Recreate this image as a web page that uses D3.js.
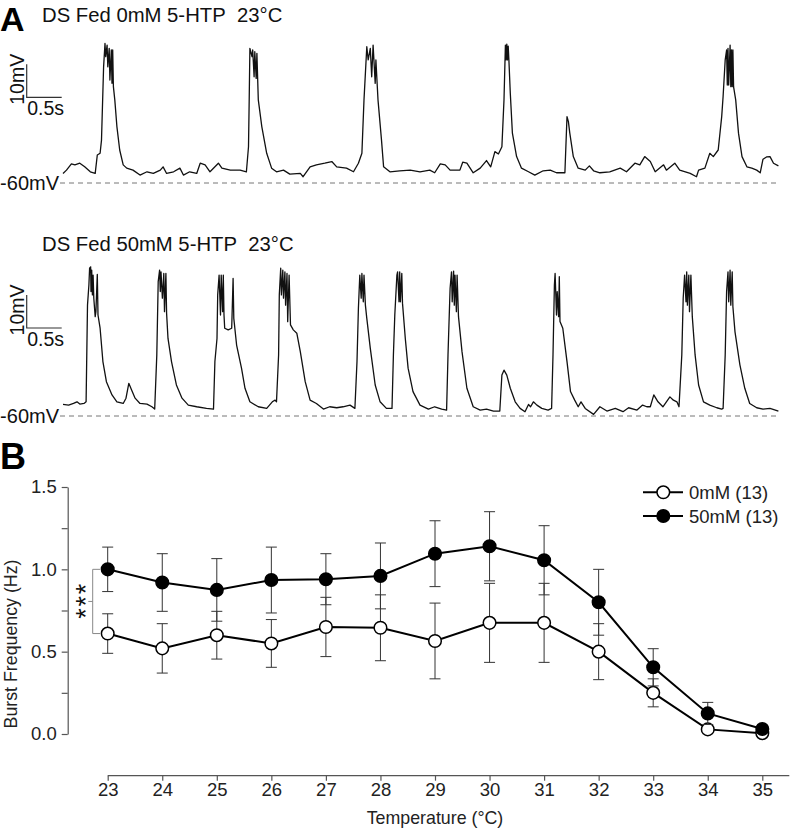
<!DOCTYPE html>
<html><head><meta charset="utf-8">
<script src="https://cdn.jsdelivr.net/npm/d3@7"></script>
<style>
body{margin:0;background:#fff}
text{font-family:"Liberation Sans",Arial,Helvetica,sans-serif}
</style>
</head><body>
<svg id="c" width="791" height="829"></svg>
<script>
// ---------- Panel A data: membrane potential traces [time (s), potential (mV)] ----------
const trace0mM = [[0.00,-57.1],[0.05,-56.1],[0.12,-54.2],[0.17,-54.5],[0.24,-54.0],[0.31,-55.1],[0.39,-56.6],[0.46,-57.1],[0.49,-51.5],[0.53,-51.0],[0.55,-47.0],[0.58,-24.8],[0.60,-17.7],[0.61,-21.7],[0.63,-18.2],[0.64,-24.8],[0.66,-19.2],[0.67,-28.8],[0.69,-19.7],[0.70,-29.8],[0.71,-19.7],[0.72,-30.8],[0.74,-34.8],[0.77,-42.9],[0.81,-50.0],[0.86,-54.5],[0.91,-55.5],[1.00,-56.1],[1.10,-57.6],[1.20,-56.6],[1.29,-57.1],[1.39,-56.1],[1.43,-55.1],[1.48,-57.1],[1.58,-56.6],[1.67,-55.5],[1.72,-57.6],[1.81,-56.6],[1.91,-57.1],[1.96,-54.0],[2.03,-54.5],[2.10,-56.6],[2.22,-54.0],[2.27,-55.5],[2.39,-56.1],[2.53,-56.1],[2.62,-56.6],[2.65,-49.0],[2.66,-34.8],[2.67,-19.2],[2.70,-21.7],[2.71,-19.7],[2.73,-27.8],[2.74,-20.2],[2.76,-28.3],[2.77,-20.7],[2.79,-34.8],[2.84,-42.9],[2.91,-51.0],[2.98,-55.5],[3.05,-56.6],[3.15,-56.1],[3.24,-57.3],[3.39,-57.1],[3.43,-58.1],[3.53,-55.1],[3.62,-54.5],[3.74,-54.0],[3.84,-53.5],[3.91,-55.1],[4.05,-55.5],[4.15,-56.6],[4.22,-54.0],[4.27,-51.0],[4.30,-34.8],[4.34,-18.7],[4.36,-22.7],[4.39,-19.2],[4.41,-27.8],[4.43,-18.2],[4.46,-29.8],[4.47,-22.7],[4.50,-34.8],[4.55,-47.0],[4.58,-55.1],[4.67,-56.6],[4.81,-56.3],[4.96,-56.1],[5.10,-56.6],[5.24,-56.1],[5.31,-56.9],[5.39,-54.2],[5.46,-54.5],[5.53,-56.1],[5.67,-56.1],[5.71,-53.7],[5.77,-54.0],[5.86,-56.9],[5.96,-55.5],[6.05,-53.2],[6.11,-55.1],[6.17,-50.5],[6.22,-51.2],[6.27,-49.0],[6.30,-34.8],[6.32,-18.2],[6.33,-22.7],[6.34,-17.9],[6.35,-22.7],[6.36,-18.5],[6.37,-22.7],[6.39,-32.8],[6.42,-44.9],[6.48,-52.0],[6.55,-55.5],[6.65,-56.6],[6.74,-57.6],[6.86,-56.3],[6.96,-56.1],[7.05,-56.9],[7.17,-56.9],[7.20,-39.9],[7.22,-41.4],[7.24,-44.9],[7.29,-52.0],[7.36,-55.5],[7.46,-56.1],[7.52,-54.8],[7.58,-56.3],[7.67,-56.9],[7.81,-56.6],[7.96,-55.5],[8.05,-56.6],[8.17,-54.0],[8.24,-54.5],[8.31,-52.0],[8.39,-53.5],[8.46,-56.6],[8.58,-54.5],[8.62,-56.1],[8.74,-54.0],[8.81,-56.1],[8.96,-57.1],[9.05,-58.1],[9.08,-56.1],[9.17,-55.5],[9.24,-51.0],[9.29,-52.0],[9.36,-50.0],[9.41,-39.9],[9.43,-33.8],[9.46,-22.7],[9.48,-19.7],[9.49,-30.3],[9.50,-19.2],[9.51,-30.3],[9.53,-18.2],[9.54,-30.8],[9.55,-19.7],[9.56,-30.8],[9.57,-19.7],[9.58,-30.9],[9.61,-34.8],[9.65,-44.9],[9.70,-52.0],[9.77,-55.1],[9.84,-55.5],[9.91,-56.1],[9.96,-56.9],[10.00,-52.8],[10.05,-52.1],[10.10,-52.0],[10.15,-54.0],[10.22,-54.8]];

const trace50mM = [[0.00,-56.5],[0.08,-56.7],[0.15,-56.2],[0.20,-55.7],[0.24,-56.4],[0.30,-56.2],[0.33,-55.7],[0.35,-26.4],[0.37,-20.3],[0.38,-15.2],[0.395,-14.8],[0.40,-22.3],[0.41,-15.8],[0.42,-23.3],[0.43,-17.3],[0.44,-24.3],[0.46,-29.9],[0.47,-28.4],[0.49,-17.1],[0.50,-29.4],[0.53,-33.4],[0.57,-43.5],[0.62,-49.6],[0.70,-53.6],[0.77,-55.7],[0.86,-56.2],[0.90,-54.6],[0.94,-50.1],[0.98,-52.1],[1.03,-54.6],[1.10,-56.2],[1.20,-56.4],[1.27,-57.2],[1.31,-57.9],[1.34,-41.5],[1.36,-19.3],[1.38,-15.8],[1.39,-22.3],[1.40,-16.3],[1.42,-24.3],[1.44,-16.8],[1.45,-28.4],[1.47,-16.8],[1.48,-28.9],[1.50,-36.5],[1.55,-43.5],[1.62,-50.6],[1.70,-54.6],[1.79,-56.7],[1.91,-57.2],[2.05,-57.7],[2.15,-57.9],[2.17,-43.5],[2.20,-36.5],[2.21,-23.3],[2.23,-17.3],[2.25,-29.4],[2.26,-17.3],[2.28,-28.4],[2.29,-17.3],[2.30,-29.4],[2.31,-33.4],[2.36,-33.9],[2.41,-33.4],[2.43,-18.3],[2.44,-30.4],[2.48,-38.5],[2.55,-45.5],[2.60,-51.6],[2.67,-55.7],[2.79,-57.2],[2.91,-57.7],[2.99,-55.7],[3.03,-55.2],[3.05,-55.7],[3.08,-41.5],[3.09,-23.3],[3.11,-15.2],[3.12,-23.3],[3.14,-15.8],[3.15,-24.3],[3.17,-16.3],[3.18,-26.4],[3.20,-16.8],[3.21,-31.4],[3.23,-17.3],[3.25,-32.4],[3.29,-33.9],[3.34,-34.9],[3.39,-40.5],[3.46,-49.6],[3.53,-55.2],[3.62,-56.2],[3.72,-57.9],[3.81,-57.2],[3.91,-57.5],[4.00,-57.2],[4.10,-56.7],[4.17,-57.7],[4.20,-43.5],[4.22,-27.4],[4.24,-17.3],[4.26,-24.3],[4.27,-16.8],[4.29,-25.4],[4.30,-17.3],[4.32,-26.4],[4.34,-30.4],[4.39,-39.5],[4.46,-50.6],[4.53,-55.7],[4.62,-57.7],[4.70,-57.7],[4.72,-41.5],[4.74,-29.4],[4.77,-17.3],[4.78,-16.3],[4.80,-25.4],[4.81,-16.3],[4.82,-25.4],[4.84,-16.8],[4.85,-25.8],[4.89,-36.5],[4.93,-45.5],[5.00,-52.6],[5.10,-56.7],[5.22,-57.9],[5.31,-57.2],[5.41,-57.9],[5.48,-58.2],[5.50,-41.5],[5.53,-21.3],[5.55,-16.3],[5.56,-25.4],[5.58,-16.1],[5.59,-26.4],[5.60,-17.3],[5.62,-28.4],[5.63,-17.3],[5.65,-29.9],[5.70,-40.5],[5.77,-51.6],[5.86,-57.2],[5.96,-58.2],[6.05,-57.9],[6.15,-58.5],[6.24,-58.5],[6.27,-47.6],[6.30,-46.1],[6.34,-47.6],[6.39,-51.6],[6.46,-55.7],[6.53,-57.7],[6.60,-58.7],[6.65,-56.5],[6.68,-57.2],[6.72,-55.7],[6.77,-56.7],[6.84,-57.7],[6.93,-58.2],[6.98,-57.7],[7.00,-41.5],[7.02,-20.3],[7.03,-16.8],[7.05,-29.4],[7.06,-22.3],[7.08,-29.9],[7.09,-17.8],[7.10,-31.4],[7.14,-33.4],[7.20,-43.5],[7.25,-52.6],[7.31,-55.2],[7.36,-57.2],[7.40,-55.7],[7.46,-57.7],[7.58,-59.5],[7.67,-57.2],[7.77,-58.5],[7.89,-57.7],[8.00,-58.7],[8.08,-57.5],[8.20,-58.2],[8.28,-56.7],[8.34,-57.2],[8.39,-57.2],[8.44,-53.6],[8.50,-55.7],[8.57,-57.2],[8.62,-55.7],[8.67,-54.2],[8.72,-55.2],[8.77,-55.7],[8.80,-57.2],[8.84,-41.5],[8.86,-24.3],[8.88,-17.3],[8.90,-25.4],[8.91,-16.3],[8.92,-26.4],[8.94,-17.3],[8.95,-28.4],[8.97,-17.3],[8.99,-29.9],[9.03,-41.5],[9.08,-50.6],[9.15,-55.7],[9.24,-56.7],[9.34,-57.5],[9.41,-57.9],[9.43,-57.7],[9.46,-41.5],[9.48,-22.3],[9.50,-16.3],[9.51,-25.4],[9.53,-15.8],[9.54,-26.4],[9.56,-16.3],[9.57,-26.9],[9.60,-34.5],[9.67,-44.5],[9.74,-51.6],[9.81,-56.2],[9.91,-57.5],[10.00,-57.9],[10.10,-57.7],[10.22,-58.5]];

const traceTitles = ["DS Fed 0mM 5-HTP\u00A0\u00A023\u00B0C", "DS Fed 50mM 5-HTP\u00A0\u00A023\u00B0C"];
const scaleBarMV = 10;     // mV
const scaleBarS = 0.5;     // s
const restMV = -60;

// ---------- Panel B data ----------
const temperatures = [23,24,25,26,27,28,29,30,31,32,33,34,35];
const mean0mM  = [0.61,0.52,0.60,0.55,0.65,0.645,0.565,0.675,0.675,0.50,0.25,0.028,0.005];
const sem0mM   = [0.12,0.15,0.145,0.145,0.18,0.20,0.23,0.24,0.24,0.17,0.085,0.02,0.01];
const mean50mM = [1.00,0.92,0.875,0.935,0.94,0.96,1.095,1.14,1.055,0.80,0.405,0.125,0.03];
const sem50mM  = [0.135,0.175,0.19,0.20,0.155,0.20,0.20,0.21,0.21,0.20,0.113,0.067,0.015];
const seriesNames = ["0mM (13)", "50mM (13)"];
const yTicks = [0,0.25,0.5,0.75,1.0,1.25,1.5];

const svg = d3.select("#c");

// ---------- Panel A ----------
svg.append("text").attr("x",0).attr("y",30.5).attr("font-size",34).attr("font-weight","bold").text("A");

const xT = d3.scaleLinear().domain([0, 0.5]).range([63, 98]);
const panels = [
  {data: trace0mM, title: traceTitles[0], base: 183, titleY: 22, barBottom: 97.3},
  {data: trace50mM, title: traceTitles[1], base: 416, titleY: 251, barBottom: 328}
];
panels.forEach(p => {
  const yT = d3.scaleLinear().domain([restMV, restMV + 10]).range([p.base, p.base - 33]);
  const g = svg.append("g");
  g.append("text").attr("x",42).attr("y",p.titleY).attr("font-size",20.3)
    .attr("fill","#111").text(p.title);
  // dashed rest line
  g.append("line").attr("x1",60).attr("x2",xT(10.24)).attr("y1",yT(restMV)).attr("y2",yT(restMV))
    .attr("stroke","#777").attr("stroke-width",1).attr("stroke-dasharray","5,4");
  g.append("text").attr("x",59).attr("y",yT(restMV)+7).attr("text-anchor","end")
    .attr("font-size",20).attr("fill","#111").text(restMV + "mV");
  // trace
  g.append("path").datum(p.data)
    .attr("d", d3.line().x(d=>xT(d[0])).y(d=>yT(d[1])))
    .attr("fill","none").attr("stroke","#111").attr("stroke-width",1.3).attr("stroke-linejoin","round");
  // scale bar
  const bx = 26.7;
  const vlen = yT(restMV) - yT(restMV + scaleBarMV);
  const hlen = xT(scaleBarS) - xT(0);
  g.append("path").attr("d", `M${bx},${p.barBottom - vlen}V${p.barBottom}H${bx + hlen}`)
    .attr("fill","none").attr("stroke","#333").attr("stroke-width",1.2);
  g.append("text").attr("transform",`translate(${bx-3},${p.barBottom - vlen/2 - 1.5}) rotate(-90)`)
    .attr("text-anchor","middle").attr("font-size",19.5).attr("fill","#111").text(scaleBarMV + "mV");
  g.append("text").attr("x",bx+0.5).attr("y",p.barBottom+18).attr("font-size",19.5).attr("fill","#111")
    .text(scaleBarS + "s");
});

// ---------- Panel B ----------
svg.append("text").attr("x",0).attr("y",469).attr("font-size",36).attr("font-weight","bold").text("B");

const x = d3.scaleLinear().domain([23,35]).range([107.7,762.3]);
const y = d3.scaleLinear().domain([0,1.5]).range([734,487]);

const yAxis = svg.append("g").attr("transform","translate(67.7,0)")
  .call(d3.axisLeft(y).tickValues(yTicks).tickSize(6).tickPadding(5).tickSizeOuter(0)
    .tickFormat(d => (Math.round(d*100) % 50 === 0) ? d3.format(".1f")(d) : ""));
const xAxis = svg.append("g").attr("transform","translate(0,775.7)")
  .call(d3.axisBottom(x).tickValues(temperatures).tickSize(5).tickPadding(2).tickSizeOuter(0));
xAxis.select(".domain").attr("d", `M${x(23)},0H${x(35)+27}`);
[yAxis, xAxis].forEach(a => {
  a.selectAll(".domain, .tick line").attr("stroke","#555").attr("stroke-width",1.2);
  a.selectAll(".tick text").attr("font-size",18.5).attr("fill","#222")
    .attr("font-family",'"Liberation Sans",Arial,sans-serif');
});

svg.append("text").attr("x",435).attr("y",824).attr("text-anchor","middle")
  .attr("font-size",17.8).attr("fill","#222").text("Temperature (\u00B0C)");
svg.append("text").attr("transform",`translate(17,644) rotate(-90)`).attr("text-anchor","middle")
  .attr("font-size",17.8).attr("fill","#222").text("Burst Frequency (Hz)");

// significance bracket
const yTop = y(mean50mM[0]), yBot = y(mean0mM[0]);
svg.append("path").attr("d",`M100,${yTop}H92.7V${yBot}H100M92.7,${(yTop+yBot)/2}H88.3`)
  .attr("fill","none").attr("stroke","#888").attr("stroke-width",1);
svg.append("text")
  .attr("transform",`translate(94.5,${(yTop+yBot)/2 - 1}) rotate(-90)`)
  .attr("text-anchor","middle").attr("font-size",27).attr("letter-spacing","1.7px")
  .attr("fill","#111").text("***");

const series = [
  {mean: mean0mM, sem: sem0mM, fill: "#fff"},
  {mean: mean50mM, sem: sem50mM, fill: "#000"}
];
const line = d3.line().x((d,i)=>x(temperatures[i])).y(d=>y(d));
series.forEach(s => {
  const g = svg.append("g");
  const eb = g.selectAll("g.eb").data(temperatures).join("g");
  eb.append("path").attr("d",(t,i)=>{
    const xx = x(t), y1 = y(s.mean[i]+s.sem[i]), y2 = y(s.mean[i]-s.sem[i]);
    return `M${xx},${y1}V${y2}M${xx-5.5},${y1}H${xx+5.5}M${xx-5.5},${y2}H${xx+5.5}`;
  }).attr("fill","none").attr("stroke","#333").attr("stroke-width",1);
  g.append("path").datum(s.mean).attr("d",line).attr("fill","none")
    .attr("stroke","#000").attr("stroke-width",2);
  g.selectAll("circle").data(s.mean).join("circle")
    .attr("cx",(d,i)=>x(temperatures[i])).attr("cy",d=>y(d)).attr("r",6.3)
    .attr("fill",s.fill).attr("stroke","#000").attr("stroke-width",1.5);
});

// legend
series.forEach((s,k) => {
  const ly = 492.3 + k*23.7;
  svg.append("line").attr("x1",643).attr("x2",683).attr("y1",ly).attr("y2",ly)
    .attr("stroke","#000").attr("stroke-width",2);
  svg.append("circle").attr("cx",663.3).attr("cy",ly).attr("r",6.3)
    .attr("fill",s.fill).attr("stroke","#000").attr("stroke-width",1.5);
  svg.append("text").attr("x",689).attr("y",ly+6.5).attr("font-size",18.5).attr("fill","#222")
    .text(seriesNames[k]);
});
</script>
</body></html>
